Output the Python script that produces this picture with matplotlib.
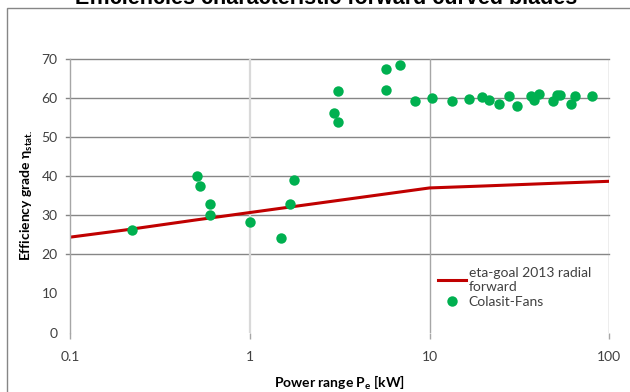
import numpy as np
import matplotlib
matplotlib.use("Agg")
import matplotlib.pyplot as plt
from matplotlib.patches import Rectangle

# ==== DATA ====
goal_power = [0.1, 0.2, 0.5, 1, 2, 5, 10, 20, 50, 100]
goal_eta = [24.4, 26.2, 28.8, 30.7, 32.6, 35.1, 37.0, 37.5, 38.2, 38.7]

fan_power = [0.22, 0.51, 0.53, 0.60, 0.60, 1.0, 1.49, 1.67, 1.77,
             2.93, 3.09, 3.11, 5.73, 5.75, 6.86, 8.3, 10.3, 13.4, 16.6,
             19.5, 21.4, 24.5, 27.6, 30.6, 36.6, 38.3, 40.7, 48.9, 51.5,
             53.5, 61.1, 64.8, 80.4]
fan_eta = [26.2, 40.0, 37.6, 33.0, 30.0, 28.2, 24.2, 33.0, 39.0,
           56.3, 54.0, 61.8, 62.0, 67.4, 68.5, 59.3, 60.1, 59.2, 59.8,
           60.4, 59.6, 58.6, 60.5, 57.9, 60.5, 59.6, 61.0, 59.3, 60.8,
           60.8, 58.4, 60.6, 60.6]

y_ticks = [0, 10, 20, 30, 40, 50, 60, 70]
y_grid = [20, 30, 40, 50, 60, 70]
x_ticks = [0.1, 1, 10, 100]
x_ticklabels = ["0.1", "1", "10", "100"]

# ==== STYLE ====
plt.rcParams['font.family'] = ['Lato', 'DejaVu Sans']
plt.rcParams['mathtext.fontset'] = 'custom'
plt.rcParams['mathtext.rm'] = 'Lato'

RED = '#C00000'
GREEN = '#00B050'
GRID_DARK = '#868686'
GRID_MID = '#A6A6A6'
GRID_LIGHT = '#D9D9D9'
TXT = '#404040'

fig = plt.figure(figsize=(6.3, 3.92), dpi=100)
ax = fig.add_axes([70 / 630, 1 - 332.5 / 392, (609.3 - 70) / 630, 273.5 / 392])

# outer chart border (runs off the image on the right/bottom)
fig.patches.append(Rectangle((7 / 630, -0.1), 1.2, 0.1 + 1 - 8 / 392,
                             transform=fig.transFigure, fill=False,
                             edgecolor=GRID_DARK, lw=1.0))

# title, cut off at the top like in the reference
fig.text(326 / 630, 1 - 4.5 / 392, "Efficiencies characteristic forward curved blades",
         ha='center', va='baseline', fontsize=15.5, fontweight='bold',
         color='black', family=['Liberation Sans', 'DejaVu Sans'])

# gridlines
for yv in y_grid:
    ax.plot([-0.008, 1], [yv, yv], color=GRID_DARK, lw=1.0,
            transform=ax.get_yaxis_transform(), clip_on=False, zorder=0)
ax.axvline(1, color=GRID_LIGHT, lw=1.6, zorder=0)
ax.axvline(10, color=GRID_MID, lw=1.0, zorder=0)
ax.axvline(100, color=GRID_MID, lw=1.0, zorder=0)

# series
ax.plot(goal_power, goal_eta, color=RED, lw=2.2, zorder=2,
        label="eta-goal 2013 radial\nforward")
ax.plot(fan_power, fan_eta, 'o', color=GREEN, ms=7.5, mec='none', zorder=3,
        label="Colasit-Fans")

ax.set_xscale('log')
ax.set_xlim(0.1, 100)
ax.set_ylim(0, 70)
ax.set_xticks(x_ticks)
ax.set_xticklabels(x_ticklabels)
ax.xaxis.set_minor_locator(matplotlib.ticker.NullLocator())
ax.set_yticks(y_ticks)

for s in ['top', 'right', 'bottom']:
    ax.spines[s].set_visible(False)
ax.spines['left'].set_color(GRID_MID)
ax.spines['left'].set_linewidth(1.0)

ax.tick_params(axis='y', length=0, pad=9, labelsize=10, labelcolor=TXT)
ax.tick_params(axis='x', length=4, width=1, color=GRID_MID, pad=9,
               labelsize=10, labelcolor=TXT)

ax.set_xlabel(r"Power range P$_{\mathregular{e}}$ [kW]", fontsize=10,
              fontweight='bold')
ax.xaxis.set_label_coords(0.5, -0.15)
ax.set_ylabel(r"Efficiency grade η$_{\mathregular{stat.}}$", fontsize=10,
              fontweight='bold')
ax.yaxis.set_label_coords(-0.065, 0.5)

leg = ax.legend(loc='upper left', bbox_to_anchor=(427 / 630, 1 - 256 / 392),
                bbox_transform=fig.transFigure, frameon=True, fancybox=False,
                edgecolor='none', facecolor='white', framealpha=1,
                fontsize=10, handlelength=2.0, handletextpad=0.2,
                borderpad=0.3, labelspacing=0.2)
for t in leg.get_texts():
    t.set_color(TXT)

fig.savefig("out.png", dpi=100)
